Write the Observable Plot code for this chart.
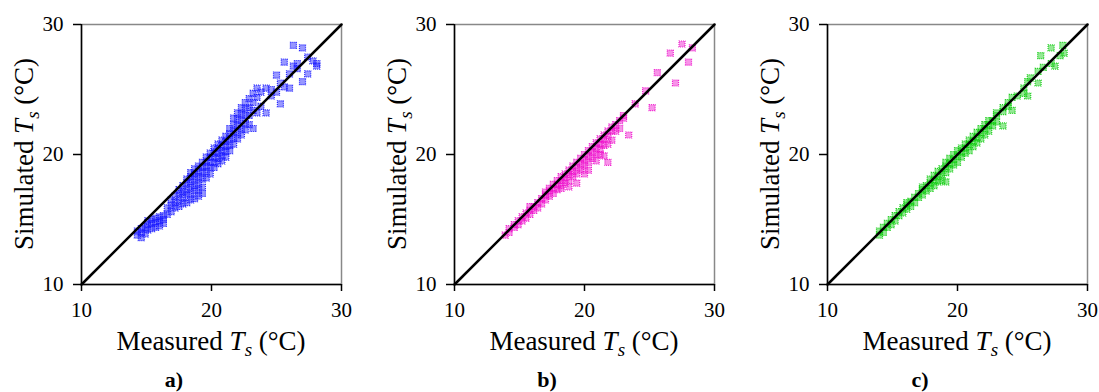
<!DOCTYPE html>
<html>
<head>
<meta charset="utf-8">
<script src="https://cdn.jsdelivr.net/npm/d3@7"></script>
<script src="https://cdn.jsdelivr.net/npm/@observablehq/plot@0.6"></script>
<style>
  html, body { margin: 0; padding: 0; background: #fff; overflow: hidden; }
  #wrap { position: relative; width: 1099px; height: 392px; }
  #wrap svg { position: absolute; top: 0; }
</style>
</head>
<body>
<div id="wrap"></div>
<script>
// ---- data (Measured Ts, Simulated Ts) ----
const axisTicks = [10, 20, 30];
const oneToOne = [10, 30];
const panelLetters = ["a)", "b)", "c)"];
const panelColors = ["#1a1aff", "#ee11cc", "#11cc11"];

const pointsA = [
  [14.3,13.8],[14.3,14.1],[14.6,13.6],[14.6,14.0],[14.6,14.3],[14.9,13.9],[14.9,14.4],
  [15.1,14.2],[15.1,14.6],[15.1,14.9],[15.4,14.3],[15.4,14.7],[15.4,15.0],
  [15.7,14.4],[15.7,14.8],[15.7,15.1],[16.0,14.5],[16.0,14.9],[16.0,15.2],
  [16.3,14.7],[16.3,15.0],[16.3,15.3],[16.6,15.4],[16.6,15.9],
  [16.9,15.6],[16.9,16.1],[16.9,16.5],[17.2,15.9],[17.2,16.3],[17.2,16.8],
  [17.5,16.0],[17.5,16.5],[17.5,17.0],[17.5,17.3],[17.8,16.2],[17.8,16.7],[17.8,17.1],[17.8,17.6],
  [18.1,16.3],[18.1,16.9],[18.1,17.3],[18.1,17.8],[18.1,18.1],
  [18.4,16.5],[18.4,17.0],[18.4,17.5],[18.4,17.9],[18.4,18.3],[18.4,18.6],
  [18.7,16.6],[18.7,17.2],[18.7,17.6],[18.7,18.1],[18.7,18.5],[18.7,18.9],
  [19.0,16.8],[19.0,17.3],[19.0,17.8],[19.0,18.3],[19.0,18.7],[19.0,19.1],
  [19.3,17.0],[19.3,17.5],[19.3,18.1],[19.3,18.6],[19.3,19.0],[19.3,19.4],
  [19.6,18.2],[19.6,18.7],[19.6,19.1],[19.6,19.5],[19.6,19.8],
  [19.9,18.5],[19.9,19.0],[19.9,19.4],[19.9,19.8],[19.9,20.1],
  [20.2,19.0],[20.2,19.4],[20.2,19.8],[20.2,20.2],[20.2,20.5],
  [20.5,19.3],[20.5,19.7],[20.5,20.1],[20.5,20.5],[20.5,20.8],
  [20.8,19.5],[20.8,19.9],[20.8,20.3],[20.8,20.7],[20.8,21.1],
  [21.1,19.8],[21.1,20.2],[21.1,20.6],[21.1,21.0],[21.1,21.4],
  [21.4,20.3],[21.4,20.7],[21.4,21.2],[21.4,21.6],[21.4,22.0],
  [21.7,20.8],[21.7,21.3],[21.7,21.8],[21.7,22.3],[21.7,22.8],
  [22.0,21.2],[22.0,21.7],[22.0,22.2],[22.0,22.7],[22.0,23.2],
  [22.3,21.5],[22.3,22.0],[22.3,22.6],[22.3,23.1],[22.3,23.6],
  [22.6,21.9],[22.6,22.4],[22.6,23.0],[22.6,23.5],[22.6,24.0],
  [22.9,22.3],[22.9,23.0],[22.9,23.6],[22.9,24.3],
  [23.2,22.0],[23.2,23.4],[23.2,24.0],[23.2,24.7],
  [23.5,23.2],[23.5,24.4],[23.5,25.1],[23.8,23.7],[23.8,24.8],
  [24.2,23.2],[24.2,25.1],[24.6,24.5],[24.6,25.0],[25.0,26.1],[25.0,24.8],
  [25.3,23.9],[25.3,25.5],[25.6,27.1],[25.6,25.2],[26.0,25.1],[26.0,26.2],
  [26.3,28.4],[26.3,26.8],[26.6,26.6],[26.6,27.0],[27.0,28.2],[27.0,25.6],
  [27.4,26.2],[27.4,27.5],[27.8,27.2],[28.1,27.0],[28.1,26.8]
];

const pointsB = [
  [13.9,13.8],[14.2,14.0],[14.2,14.3],[14.6,14.4],[14.6,14.6],[14.9,14.6],[14.9,14.9],
  [15.2,14.9],[15.2,15.2],[15.5,15.1],[15.5,15.5],[15.8,15.4],[15.8,15.7],[15.8,16.0],
  [16.1,15.7],[16.1,16.0],[16.4,15.9],[16.4,16.3],[16.7,16.2],[16.7,16.6],
  [17.0,16.5],[17.0,16.9],[17.0,17.1],[17.3,16.8],[17.3,17.2],[17.3,17.4],
  [17.6,17.0],[17.6,17.4],[17.6,17.7],[17.9,17.3],[17.9,17.7],[17.9,18.0],
  [18.2,17.4],[18.2,17.6],[18.2,18.0],[18.2,18.3],[18.5,17.8],[18.5,18.2],[18.5,18.5],
  [18.8,17.5],[18.8,18.0],[18.8,18.5],[18.8,18.8],[19.1,18.3],[19.1,18.7],[19.1,19.1],
  [19.4,17.8],[19.4,18.5],[19.4,19.0],[19.4,19.4],[19.7,18.8],[19.7,19.3],[19.7,19.7],
  [20.0,18.5],[20.0,19.1],[20.0,19.6],[20.0,20.0],[20.3,18.8],[20.3,19.4],[20.3,19.9],[20.3,20.3],
  [20.6,19.7],[20.6,20.2],[20.6,20.6],[20.9,19.5],[20.9,20.0],[20.9,20.5],[20.9,20.9],
  [21.2,20.0],[21.2,20.4],[21.2,20.8],[21.2,21.2],[21.5,19.9],[21.5,20.7],[21.5,21.2],[21.5,21.5],
  [21.8,19.4],[21.8,20.8],[21.8,21.4],[21.8,21.8],[22.1,21.1],[22.1,21.8],[22.1,22.1],
  [22.4,21.8],[22.4,22.3],[22.7,22.0],[22.7,22.6],[23.0,22.8],[23.0,23.0],
  [23.4,21.5],[23.9,23.9],[24.7,24.9],[25.2,23.6],[25.6,26.3],[26.6,27.8],
  [27.0,25.5],[27.5,28.5],[28.0,27.1],[28.3,28.2]
];

const pointsC = [
  [14.0,13.8],[14.0,14.1],[14.3,14.0],[14.3,14.4],[14.6,14.4],[14.6,14.7],[14.9,14.6],[14.9,15.0],
  [15.2,14.9],[15.2,15.3],[15.5,15.3],[15.5,15.6],[15.8,15.5],[15.8,15.9],
  [16.1,15.8],[16.1,16.1],[16.1,16.3],[16.4,16.0],[16.4,16.4],[16.7,16.3],[16.7,16.7],
  [17.0,16.7],[17.0,17.0],[17.3,16.9],[17.3,17.3],[17.3,17.5],[17.6,17.2],[17.6,17.6],
  [17.9,17.4],[17.9,17.8],[17.9,18.1],[18.2,17.6],[18.2,18.0],[18.2,18.4],
  [18.5,17.9],[18.5,18.3],[18.5,18.7],[18.8,18.0],[18.8,18.5],[18.8,18.9],
  [19.1,17.9],[19.1,18.6],[19.1,19.1],[19.1,19.4],[19.4,18.9],[19.4,19.3],[19.4,19.7],
  [19.7,19.2],[19.7,19.6],[19.7,20.0],[20.0,19.4],[20.0,19.9],[20.0,20.3],
  [20.3,19.8],[20.3,20.2],[20.3,20.5],[20.6,20.1],[20.6,20.5],[20.6,20.8],
  [20.9,20.3],[20.9,20.8],[20.9,21.1],[21.2,20.6],[21.2,21.0],[21.2,21.4],
  [21.5,20.9],[21.5,21.3],[21.5,21.7],[21.8,21.2],[21.8,21.7],[21.8,22.0],
  [22.1,21.5],[22.1,22.0],[22.1,22.3],[22.4,21.8],[22.4,22.3],[22.4,22.6],
  [22.7,22.2],[22.7,22.6],[23.0,22.5],[23.0,23.0],[23.0,23.2],
  [23.5,22.2],[23.5,23.3],[23.5,23.6],[23.9,23.7],[23.9,24.0],[24.2,24.4],[24.2,23.4],
  [24.6,24.5],[25.1,24.7],[25.1,25.1],[25.4,24.5],[25.4,25.6],[25.6,25.9],
  [26.2,25.5],[26.2,26.4],[26.4,27.6],[26.6,26.7],[27.2,28.2],[27.2,27.0],
  [27.5,26.8],[27.9,27.6],[28.1,28.4],[28.2,27.8]
];

const panels = [pointsA, pointsB, pointsC];
const panelLeft = [0, 373, 746];

const FONT = "'Liberation Serif', 'Times New Roman', serif";
const wrap = document.getElementById("wrap");

panels.forEach((pts, i) => {
  const diag = oneToOne.map(v => ({m: v, s: v}));
  const chart = Plot.plot({
    width: 353,
    height: 392,
    marginLeft: 81,
    marginRight: 12,
    marginTop: 24,
    marginBottom: 108,
    style: {fontFamily: FONT, fontSize: "21px", color: "#000", background: "white"},
    x: {domain: [10, 30], label: null},
    y: {domain: [10, 30], label: null},
    marks: [
      Plot.frame({stroke: "#888", strokeWidth: 1.5}),
      Plot.dot(pts, {
        x: d => d[0], y: d => d[1], symbol: "square", r: 3.4,
        fill: panelColors[i], fillOpacity: 0.45, stroke: panelColors[i], strokeWidth: 1.2,
        strokeDasharray: "1,1", strokeOpacity: 0.9
      }),
      Plot.line(diag, {x: "m", y: "s", stroke: "#000", strokeWidth: 2.5}),
      Plot.ruleX([10], {stroke: "#000", strokeWidth: 1.5}),
      Plot.ruleY([10], {stroke: "#000", strokeWidth: 1.5}),
      Plot.axisX({ticks: axisTicks, tickSize: 7, tickPadding: 11, label: null, strokeWidth: 1.5}),
      Plot.axisY({ticks: axisTicks, tickSize: 8, tickPadding: 10, label: null, strokeWidth: 1.5})
    ]
  });
  chart.style.left = panelLeft[i] + "px";
  wrap.appendChild(chart);

  const svg = d3.select(chart);
  // enforce tick label size/font
  svg.selectAll('g[aria-label$="tick label"]')
    .attr("font-size", 21).attr("font-family", FONT)
    .selectAll("text").style("font-size", "21px").style("font-family", FONT);

  const cx = 81 + 130;
  const addLabel = (sel, word) => {
    sel.append("tspan").text(word + " ");
    sel.append("tspan").attr("font-style", "italic").text("T");
    sel.append("tspan").attr("font-style", "italic").attr("font-size", "19px").attr("dy", "6").text("s");
    sel.append("tspan").attr("dy", "-6").text(" (°C)");
  };
  const xl = svg.append("text")
    .attr("x", cx).attr("y", 350)
    .attr("text-anchor", "middle")
    .attr("font-family", FONT).attr("font-size", "27px").attr("fill", "#000");
  addLabel(xl, "Measured");
  const yl = svg.append("text")
    .attr("transform", `translate(33,154) rotate(-90)`)
    .attr("text-anchor", "middle")
    .attr("font-family", FONT).attr("font-size", "27px").attr("fill", "#000");
  addLabel(yl, "Simulated");
  svg.append("text")
    .attr("x", 174).attr("y", 387)
    .attr("text-anchor", "middle")
    .attr("font-family", FONT).attr("font-size", "22px").attr("font-weight", "bold").attr("fill", "#000")
    .text(panelLetters[i]);
});
</script>
</body>
</html>
